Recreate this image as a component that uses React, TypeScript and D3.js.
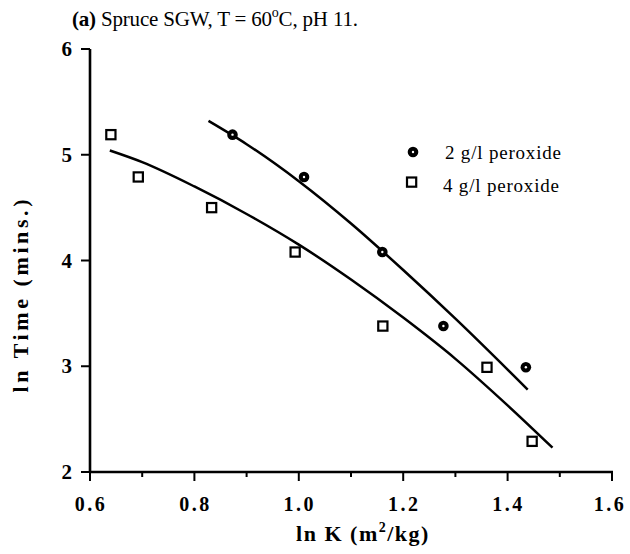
import React from "react";
import * as d3 from "d3";

const xTicks = [0.6, 0.7, 0.8, 0.9, 1.0, 1.1, 1.2, 1.3, 1.4, 1.5, 1.6];
const xTickLabels = ["0.6", "0.8", "1.0", "1.2", "1.4", "1.6"];
const yTicks = [2, 3, 4, 5, 6];

const peroxide2X = [0.873, 1.01, 1.16, 1.277, 1.435];
const peroxide2Y = [5.19, 4.79, 4.08, 3.38, 2.99];
const peroxide4X = [0.64, 0.6925, 0.833, 0.993, 1.161, 1.3605, 1.447];
const peroxide4Y = [5.19, 4.79, 4.5, 4.08, 3.38, 2.99, 2.29];

const fit2X = [0.827, 0.9, 1.0, 1.1, 1.2, 1.3, 1.4385];
const fit2Y = [5.32, 5.1, 4.75, 4.35, 3.91, 3.45, 2.78];
const fit4X = [0.638, 0.7, 0.8, 0.9, 1.0, 1.1, 1.2, 1.3, 1.4, 1.486];
const fit4Y = [5.04, 4.93, 4.7, 4.44, 4.15, 3.82, 3.46, 3.07, 2.63, 2.23];

const legendLabels = ["2 g/l peroxide", "4 g/l peroxide"];

export default function App() {
  const x = d3.scaleLinear().domain([0.6, 1.6]).range([90, 612]);
  const y = d3.scaleLinear().domain([2, 6]).range([472, 49]);
  const line = d3
    .line<[number, number]>()
    .x((d) => x(d[0]))
    .y((d) => y(d[1]))
    .curve(d3.curveMonotoneX);
  const fit2 = fit2X.map((v, i) => [v, fit2Y[i]] as [number, number]);
  const fit4 = fit4X.map((v, i) => [v, fit4Y[i]] as [number, number]);
  const serif = "'Liberation Serif', 'Times New Roman', serif";
  const isMajor = (t: number) => xTickLabels.includes(t.toFixed(1));

  return (
    <svg
      width={630}
      height={554}
      style={{ position: "absolute", left: 0, top: 0, background: "#fff" }}
      fontFamily={serif}
    >
      <rect width={630} height={554} fill="#fff" />
      {/* title */}
      <text x={72} y={26} fontSize={21} fill="#000" textLength={286}>
        <tspan fontWeight="bold">(a)</tspan>
        <tspan> Spruce SGW, T = 60</tspan>
        <tspan fontSize={14} dy={-9}>o</tspan>
        <tspan dy={9}>C, pH 11.</tspan>
      </text>

      {/* axes */}
      <line x1={x(0.6)} x2={x(0.6)} y1={y(6)} y2={y(2)} stroke="#000" strokeWidth={2.6} />
      <line x1={x(0.6) - 1} x2={x(1.6) + 1} y1={y(2)} y2={y(2)} stroke="#000" strokeWidth={2.6} />
      {yTicks.map((t) => (
        <g key={"y" + t}>
          <line x1={x(0.6) - 9} x2={x(0.6)} y1={y(t)} y2={y(t)} stroke="#000" strokeWidth={2} />
          <text x={72} y={y(t) + 7} fontSize={21} fontWeight="bold" textAnchor="end">
            {t}
          </text>
        </g>
      ))}
      {xTicks.map((t) => (
        <line
          key={"x" + t}
          x1={x(t)}
          x2={x(t)}
          y1={y(2)}
          y2={y(2) + (isMajor(t) ? 9 : 5)}
          stroke="#000"
          strokeWidth={2}
        />
      ))}
      {xTickLabels.map((l, i) => (
        <text
          key={"xl" + l}
          x={x(+l) + (i === xTickLabels.length - 1 ? -2 : 1)}
          y={511}
          fontSize={20}
          fontWeight="bold"
          textAnchor="middle"
          letterSpacing={2.5}
        >
          {l}
        </text>
      ))}

      {/* axis titles */}
      <text x={363} y={541} fontSize={22} fontWeight="bold" textAnchor="middle" letterSpacing={1.5}>
        <tspan>ln K (m</tspan>
        <tspan fontSize={14} dy={-9}>2</tspan>
        <tspan dy={9}>/kg)</tspan>
      </text>
      <text
        transform="translate(28,296) rotate(-90)"
        fontSize={22}
        fontWeight="bold"
        textAnchor="middle"
        textLength={193}
      >
        ln Time (mins.)
      </text>

      {/* fit curves */}
      <path d={line(fit2) || ""} fill="none" stroke="#000" strokeWidth={2.5} />
      <path d={line(fit4) || ""} fill="none" stroke="#000" strokeWidth={2.5} />

      {/* points */}
      {peroxide2X.map((v, i) => (
        <g key={"p2" + i}>
          <circle cx={x(v)} cy={y(peroxide2Y[i])} r={5.3} fill="#000" />
          <circle cx={x(v)} cy={y(peroxide2Y[i])} r={1.2} fill="#fff" />
        </g>
      ))}
      {peroxide4X.map((v, i) => (
        <rect
          key={"p4" + i}
          x={x(v) - 4.6}
          y={y(peroxide4Y[i]) - 4.6}
          width={9.2}
          height={9.2}
          fill="#fff"
          stroke="#000"
          strokeWidth={2.2}
        />
      ))}

      {/* legend */}
      <circle cx={413} cy={152} r={5.3} fill="#000" />
      <circle cx={413} cy={152} r={1.2} fill="#fff" />
      <text x={445} y={159} fontSize={19} textLength={116}>
        {legendLabels[0]}
      </text>
      <rect x={407} y={177.5} width={9.2} height={9.2} fill="#fff" stroke="#000" strokeWidth={2.2} />
      <text x={443} y={191.5} fontSize={19} textLength={116}>
        {legendLabels[1]}
      </text>
    </svg>
  );
}
